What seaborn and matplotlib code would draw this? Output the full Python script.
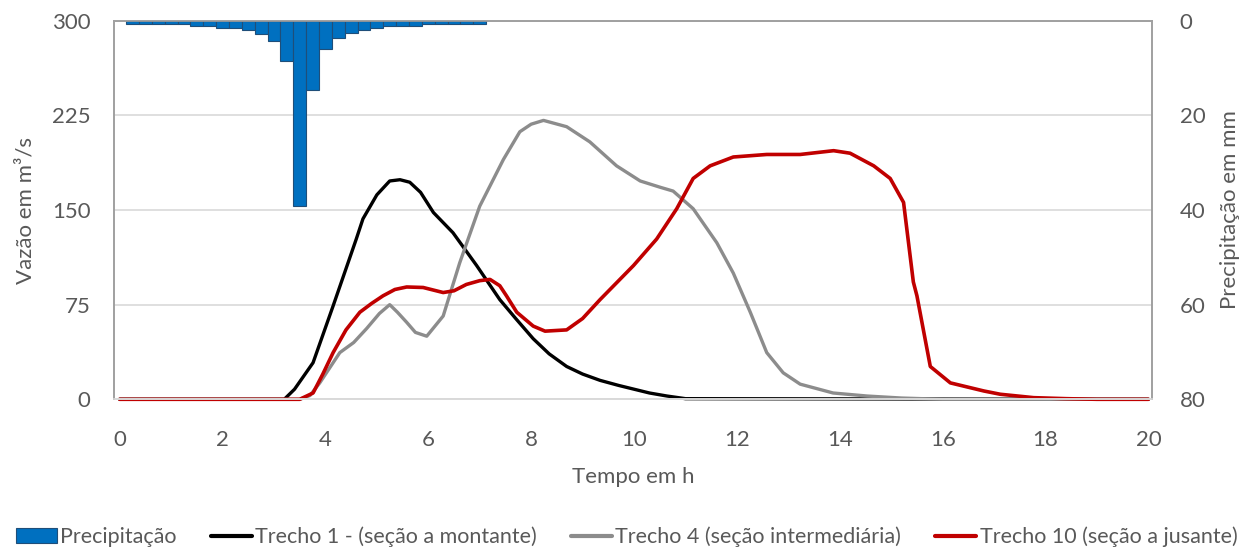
import matplotlib
matplotlib.use("Agg")
import matplotlib.pyplot as plt
import seaborn as sns
from matplotlib.patches import Patch
from matplotlib.lines import Line2D

# chuva (mm) em intervalos de 15 min
tempo_chuva = [0.25, 0.5, 0.75, 1.0, 1.25, 1.5, 1.75, 2.0, 2.25, 2.5, 2.75, 3.0, 3.25, 3.5,
               3.75, 4.0, 4.25, 4.5, 4.75, 5.0, 5.25, 5.5, 5.75, 6.0, 6.25, 6.5, 6.75, 7.0]
precipitacao = [0.7, 0.7, 0.7, 0.7, 0.7, 1.1, 1.1, 1.6, 1.6, 2.0, 2.8, 4.3, 8.5, 39.2,
                14.7, 6.0, 3.6, 2.5, 2.0, 1.6, 1.2, 1.1, 1.1, 0.7, 0.7, 0.7, 0.7, 0.7]

# hidrogramas (m3/s)
t_trecho1 = [0, 3.2, 3.4, 3.76, 4.15, 4.6, 4.73, 5.0, 5.25, 5.45, 5.64, 5.85, 6.1, 6.48,
             6.94, 7.39, 7.7, 8.04, 8.35, 8.69, 9.0, 9.34, 9.7, 10.0, 10.3, 10.64, 11.0, 20]
q_trecho1 = [0, 0, 8, 29, 74, 127, 143, 162, 173, 174, 172, 164, 148, 132,
             106, 79, 64, 48, 36, 26, 20, 15, 11, 8, 5, 2.6, 0.5, 0]

t_trecho4 = [0, 3.5, 3.7, 3.89, 4.28, 4.55, 4.8, 5.05, 5.25, 5.4, 5.58, 5.75, 5.97, 6.29,
             6.61, 7.0, 7.46, 7.78, 8.0, 8.24, 8.69, 9.14, 9.66, 10.12, 10.51, 10.76,
             11.15, 11.61, 11.93, 12.26, 12.58, 12.9, 13.23, 13.87, 14.53, 15.2, 16, 20]
q_trecho4 = [0, 0, 3, 13, 37, 45, 56, 68, 75, 69, 61, 53, 50, 66,
             108, 153, 190, 212, 218, 221, 216, 204, 185, 173, 168, 165,
             151, 124, 100, 69, 37, 21, 12, 5, 2.6, 1, 0, 0]

t_trecho10 = [0, 3.5, 3.76, 3.95, 4.15, 4.4, 4.67, 4.9, 5.12, 5.35, 5.58, 5.9, 6.29, 6.5,
              6.74, 7.0, 7.2, 7.39, 7.52, 7.72, 8.04, 8.27, 8.69, 9.0, 9.34, 9.99, 10.44,
              10.83, 11.15, 11.48, 11.93, 12.58, 13.23, 13.88, 14.2, 14.66, 14.98, 15.24,
              15.43, 15.5, 15.76, 16.15, 16.8, 17.12, 17.77, 18.4, 19, 20]
q_trecho10 = [0, 0, 5, 20, 37, 55, 69, 76, 82, 87, 89, 88.6, 84.6, 86,
              91, 94, 95, 90, 82, 69, 58, 54, 55, 64, 79, 106, 127,
              151, 175, 185, 192, 194, 194, 197, 195, 185, 175, 156,
              93, 82, 26, 13, 6.6, 4, 1.3, 0.5, 0, 0]

cinza_txt = "#595959"

sns.set_style("white")
plt.rcParams["font.family"] = ["Lato", "DejaVu Sans"]

fig = plt.figure(figsize=(12.53, 5.48), dpi=100)
ax = fig.add_axes([114 / 1253, 1 - 399.3 / 548, (1152 - 114) / 1253, (399.3 - 20.7) / 548])
ax2 = ax.twinx()

# barras de chuva no eixo secundario invertido
sns.barplot(x=tempo_chuva, y=precipitacao, native_scale=True, width=1.0, orient="x",
            color="#0070C0", saturation=1, edgecolor="#1F4E79", linewidth=0.8,
            errorbar=None, ax=ax2)

# hidrogramas
sns.lineplot(x=t_trecho1, y=q_trecho1, color="black", lw=2.4, ax=ax, clip_on=False)
sns.lineplot(x=t_trecho4, y=q_trecho4, color="#8C8C8C", lw=2.4, ax=ax, clip_on=False)
sns.lineplot(x=t_trecho10, y=q_trecho10, color="#C00000", lw=2.6, ax=ax, clip_on=False)

ax.set_xlim(-0.11, 20.07)
ax.set_ylim(0, 300)
ax2.set_ylim(80, 0)
ax.set_xticks(range(0, 21, 2))
ax.set_yticks([0, 75, 150, 225, 300])
ax2.set_yticks([0, 20, 40, 60, 80])

ax.grid(axis="y", color="#D9D9D9", lw=1.2)
ax.grid(axis="x", visible=False)
ax2.grid(False)
ax.set_axisbelow(True)

for a in (ax, ax2):
    a.spines["left"].set_color("#A0A0A0")
    a.spines["right"].set_color("#A0A0A0")
    a.spines["top"].set_color("#A0A0A0")
    a.spines["bottom"].set_color("#D9D9D9")
    for s in a.spines.values():
        s.set_linewidth(1.2)

ax.tick_params(axis="y", length=0, pad=17, labelsize=16, labelcolor=cinza_txt)
ax.tick_params(axis="x", length=0, pad=22, labelsize=16, labelcolor=cinza_txt)
ax2.tick_params(axis="y", length=0, pad=20, labelsize=16, labelcolor=cinza_txt)

ax.set_xlabel("Tempo em h", fontsize=16, color=cinza_txt, labelpad=12)
ax.set_ylabel("Vazão em m³/s", fontsize=16, color=cinza_txt, labelpad=12)
ax2.set_ylabel("Precipitação em mm", fontsize=16, color=cinza_txt, labelpad=10)

handles = [
    Patch(facecolor="#0070C0", edgecolor="#1F4E79", lw=0.8),
    Line2D([], [], color="black", lw=3),
    Line2D([], [], color="#8C8C8C", lw=3),
    Line2D([], [], color="#C00000", lw=3),
]
labels = ["Precipitação", "Trecho 1 - (seção a montante)",
          "Trecho 4 (seção intermediária)", "Trecho 10 (seção a jusante)"]
fig.legend(handles, labels, loc="center", bbox_to_anchor=(0.5, 1 - 537 / 548), ncol=4,
           frameon=False, fontsize=15.5, handlelength=1.9, handletextpad=0.15,
           columnspacing=1.6, labelcolor=cinza_txt)

fig.savefig("out.png", dpi=100)
